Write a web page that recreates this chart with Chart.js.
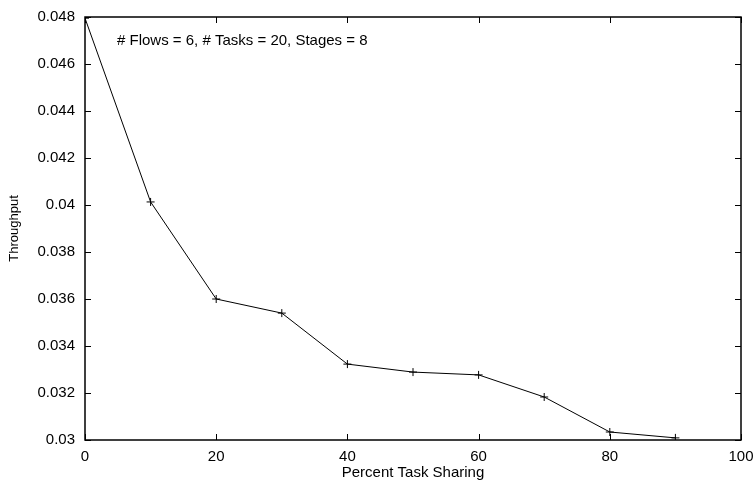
<!DOCTYPE html>
<html>
<head>
<meta charset="utf-8">
<script src="https://cdn.jsdelivr.net/npm/chart.js@4/dist/chart.umd.min.js"></script>
<style>
  html, body { margin: 0; padding: 0; background: #fff; }
  #wrap { width: 754px; height: 480px; }
</style>
</head>
<body>
<div id="wrap"><canvas id="throughputChart" width="754" height="480"></canvas></div>
<script>
// Data
const sharing = [0, 10, 20, 30, 40, 50, 60, 70, 80, 90];
const throughput = [0.04795, 0.04013, 0.0360, 0.0354, 0.03323, 0.03289, 0.03277, 0.03183, 0.03034, 0.03009];
const xTicks = [0, 20, 40, 60, 80, 100];
const yTicks = [0.03, 0.032, 0.034, 0.036, 0.038, 0.04, 0.042, 0.044, 0.046, 0.048];
const note = "# Flows = 6, # Tasks = 20, Stages = 8";

const FONT = "Liberation Sans, Arial, Helvetica, sans-serif";

// gnuplot-style frame with inward ticks on all sides
const framePlugin = {
    id: "frame",
    afterDatasetsDraw(chart) {
        const { ctx, chartArea: a, scales } = chart;
        const len = 6;
        ctx.save();
        ctx.strokeStyle = "#000";
        ctx.lineWidth = 1;
        ctx.beginPath();
        xTicks.forEach(function (v) {
            const px = Math.round(scales.x.getPixelForValue(v)) + 0.5;
            ctx.moveTo(px, a.bottom); ctx.lineTo(px, a.bottom - len);
            ctx.moveTo(px, a.top); ctx.lineTo(px, a.top + len);
        });
        yTicks.forEach(function (v) {
            const py = Math.round(scales.y.getPixelForValue(v)) + 0.5;
            ctx.moveTo(a.left, py); ctx.lineTo(a.left + len, py);
            ctx.moveTo(a.right, py); ctx.lineTo(a.right - len, py);
        });
        ctx.stroke();
        ctx.lineWidth = 1.5;
        ctx.strokeRect(a.left, a.top, a.right - a.left, a.bottom - a.top);
        ctx.fillStyle = "#000";
        ctx.font = "15px " + FONT;
        ctx.textBaseline = "middle";
        ctx.fillText(note, 117, 41);
        ctx.restore();
    }
};

new Chart(document.getElementById("throughputChart"), {
    type: "line",
    data: {
        datasets: [{
            data: sharing.map(function (x, i) { return { x: x, y: throughput[i] }; }),
            borderColor: "#000",
            borderWidth: 1,
            pointStyle: "cross",
            pointRadius: 4,
            pointBorderWidth: 1,
            pointBorderColor: "#000",
            fill: false,
            tension: 0
        }]
    },
    options: {
        responsive: false,
        animation: false,
        layout: { padding: { left: 0, top: 17, right: 13, bottom: 0 } },
        plugins: { legend: { display: false }, tooltip: { enabled: false } },
        scales: {
            x: {
                type: "linear",
                min: 0, max: 100,
                afterFit: function (s) { s.height = 40; },
                afterBuildTicks: function (s) { s.ticks = xTicks.map(function (v) { return { value: v }; }); },
                grid: { display: false },
                border: { display: false },
                ticks: { color: "#000", font: { size: 15, family: FONT }, padding: 0, maxRotation: 0 },
                title: { display: true, text: "Percent Task Sharing", color: "#000", font: { size: 15, family: FONT }, padding: { top: 0, bottom: -2 } }
            },
            y: {
                min: 0.03, max: 0.048,
                afterFit: function (s) { s.width = 85; },
                afterBuildTicks: function (s) { s.ticks = yTicks.map(function (v) { return { value: v }; }); },
                grid: { display: false },
                border: { display: false },
                ticks: {
                    color: "#000", font: { size: 15, family: FONT }, padding: 2,
                    callback: function (v) { return String(Math.round(v * 1000) / 1000); }
                },
                title: { display: true, text: "Throughput", color: "#000", font: { size: 13, family: FONT }, padding: { top: 7, bottom: 0 } }
            }
        }
    },
    plugins: [framePlugin]
});
</script>
</body>
</html>
